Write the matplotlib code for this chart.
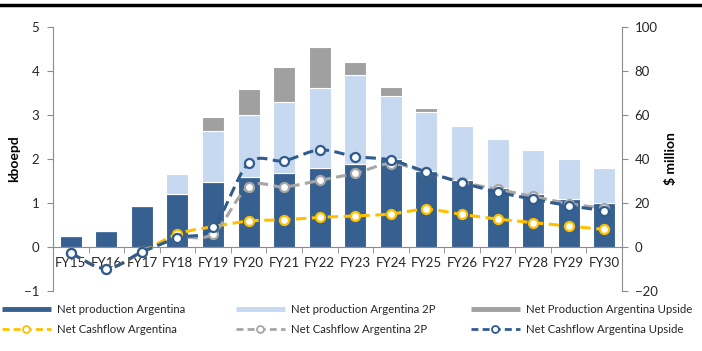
import numpy as np
import matplotlib
matplotlib.use("Agg")
import matplotlib.pyplot as plt
from matplotlib.lines import Line2D

plt.rcParams['font.family'] = ['Lato', 'DejaVu Sans']

years = ["FY15", "FY16", "FY17", "FY18", "FY19", "FY20", "FY21", "FY22",
         "FY23", "FY24", "FY25", "FY26", "FY27", "FY28", "FY29", "FY30"]

# Production, kboepd (cumulative levels of each case)
prod_base = [0.25, 0.37, 0.93, 1.21, 1.48, 1.58, 1.69, 1.80,
             1.89, 1.99, 1.73, 1.52, 1.35, 1.21, 1.10, 0.99]
prod_2p = [0.25, 0.37, 0.93, 1.66, 2.64, 3.01, 3.30, 3.62,
           3.90, 3.44, 3.07, 2.74, 2.45, 2.21, 1.99, 1.80]
prod_upside = [0.25, 0.37, 0.93, 1.66, 2.95, 3.58, 4.10, 4.55,
               4.20, 3.64, 3.17, 2.74, 2.45, 2.21, 1.99, 1.80]

# Net cashflow, $ million
cf_base = [-2.9, -9.8, -2.3, 5.9, 9.2, 11.8, 12.4, 13.5,
           14.1, 15.0, 17.1, 14.8, 12.7, 11.1, 9.5, 8.0]
cf_2p = [-2.9, -9.8, -2.3, 4.1, 6.1, 27.4, 27.3, 30.3,
         33.5, 37.9, 34.0, 29.5, 26.2, 23.0, 19.7, 17.6]
cf_upside = [-2.9, -9.8, -2.3, 4.1, 8.9, 38.0, 39.2, 44.1,
             41.1, 39.5, 34.1, 29.2, 25.0, 21.7, 18.8, 16.5]

c_dark = "#36608f"
c_light = "#c6d9f0"
c_gray = "#a0a0a0"
c_yellow = "#ffc000"
c_gline = "#a6a6a6"
c_bline = "#2f5b8e"
spine_c = "#8c8c8c"
text_c = "#262626"


def smooth(xs, ys, n=20):
    """Catmull-Rom curve through the points, like a spreadsheet's smoothed line."""
    xs = np.asarray(xs, float)
    ys = np.asarray(ys, float)
    px = np.concatenate([[2 * xs[0] - xs[1]], xs, [2 * xs[-1] - xs[-2]]])
    py = np.concatenate([[2 * ys[0] - ys[1]], ys, [2 * ys[-1] - ys[-2]]])
    ox, oy = [], []
    t = np.linspace(0, 1, n, endpoint=False)
    for i in range(1, len(px) - 2):
        for P, out in ((px, ox), (py, oy)):
            p0, p1, p2, p3 = P[i - 1], P[i], P[i + 1], P[i + 2]
            out.extend(0.5 * ((2 * p1) + (-p0 + p2) * t
                              + (2 * p0 - 5 * p1 + 4 * p2 - p3) * t ** 2
                              + (-p0 + 3 * p1 - 3 * p2 + p3) * t ** 3))
    ox.append(xs[-1])
    oy.append(ys[-1])
    return np.array(ox), np.array(oy)


fig = plt.figure(figsize=(7.02, 3.51), dpi=100)
ax = fig.add_axes([53 / 702, 1 - 291 / 351, (622 - 53) / 702, (291 - 27) / 351])
x = np.arange(len(years))
w = 0.62

base = np.array(prod_base)
tp = np.array(prod_2p)
up = np.array(prod_upside)
ax.bar(x, base, w, color=c_dark, edgecolor="white", linewidth=0.8, zorder=2)
ax.bar(x, tp - base, w, bottom=base, color=c_light, edgecolor="white",
       linewidth=0.8, zorder=2)
ax.bar(x, up - tp, w, bottom=tp, color=c_gray, edgecolor="white",
       linewidth=0.8, zorder=2)

ax.set_xlim(-0.5, len(years) - 0.5)
ax.set_ylim(-1, 5)
ax.set_yticks(range(-1, 6))
for s in ("top", "right"):
    ax.spines[s].set_visible(False)
ax.spines["left"].set_color(spine_c)
ax.spines["bottom"].set_color(spine_c)
ax.spines["bottom"].set_position(("data", 0))
ax.set_xticks(x)
ax.set_xticklabels(years)
ax.set_xticks(np.arange(-0.5, len(years), 1), minor=True)
ax.tick_params(axis="x", which="major", length=0, pad=7, labelsize=9.5,
               labelcolor=text_c)
ax.tick_params(axis="x", which="minor", length=4, direction="out",
               color=spine_c)
ax.tick_params(axis="y", length=4, color=spine_c, labelsize=9.5,
               labelcolor=text_c, pad=6)
ax.set_ylabel("kboepd", fontweight="bold", fontsize=10)
ax.yaxis.set_label_coords(-0.058, 0.5)

ax2 = ax.twinx()
ax2.set_ylim(-20, 100)
ax2.set_yticks(range(-20, 101, 20))
for s in ("top", "left", "bottom"):
    ax2.spines[s].set_visible(False)
ax2.spines["right"].set_color(spine_c)
ax2.tick_params(axis="y", length=4, color=spine_c, labelsize=9.5,
                labelcolor=text_c, pad=5)
ax2.set_ylabel("$ million", fontweight="bold", fontsize=10)
ax2.yaxis.set_label_coords(1.075, 0.5)

series = [(cf_base, c_yellow), (cf_2p, c_gline), (cf_upside, c_bline)]
for i, (vals, col) in enumerate(series):
    sx, sy = smooth(x, vals)
    ax2.plot(sx, sy, color=col, lw=2.2, dashes=(3.4, 1.8), zorder=3 + i,
             solid_capstyle="butt", dash_capstyle="butt")
    ax2.plot(x, vals, ls="none", marker="o", ms=6.5, mfc="white", mec=col,
             mew=1.6, zorder=3 + i)

# top rule
fig.add_artist(Line2D([0, 0.997], [1 - 5 / 351, 1 - 5 / 351], color="black",
                      lw=2.5, transform=fig.transFigure))

# legend in three columns, each placed explicitly
def bar_handle(c):
    return Line2D([], [], color=c, lw=3.5, solid_capstyle="butt")

def line_handle(c):
    return Line2D([], [], color=c, lw=2, dashes=(2.5, 1.5), marker="o",
                  ms=5, mfc="white", mec=c, mew=1.3)

cols = [
    ([bar_handle(c_dark), line_handle(c_yellow)],
     ["Net production Argentina", "Net Cashflow Argentina"], 2),
    ([bar_handle(c_light), line_handle(c_gline)],
     ["Net production Argentina 2P", "Net Cashflow Argentina 2P"], 236),
    ([bar_handle(c_gray), line_handle(c_bline)],
     ["Net Production Argentina Upside", "Net Cashflow Argentina Upside"], 471),
]
for hs, ls, xpx in cols:
    fig.legend(hs, ls, loc="upper left",
               bbox_to_anchor=(xpx / 702, 1 - 304 / 351),
               frameon=False, fontsize=8.2, handlelength=4.3,
               handletextpad=0.5, labelspacing=0.8, borderpad=0,
               borderaxespad=0, numpoints=1, labelcolor=text_c)

fig.savefig("out.png", dpi=100)
